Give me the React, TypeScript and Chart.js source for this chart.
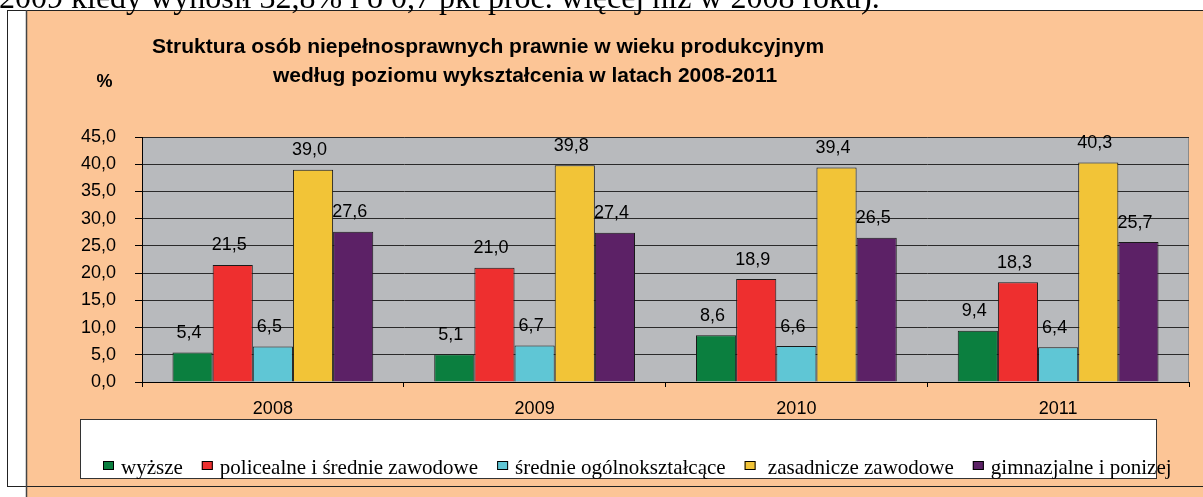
import React, { useEffect, useRef } from "react";
import { Chart, registerables } from "chart.js";

Chart.register(...registerables);

const categories = ["2008", "2009", "2010", "2011"];
const seriesNames = [
  "wyższe",
  "policealne i średnie zawodowe",
  "średnie ogólnokształcące",
  " zasadnicze zawodowe",
  "gimnazjalne i ponizej",
];
const wyzsze = [5.4, 5.1, 8.6, 9.4];
const policealne = [21.5, 21.0, 18.9, 18.3];
const srednieOgolne = [6.5, 6.7, 6.6, 6.4];
const zasadnicze = [39.0, 39.8, 39.4, 40.3];
const gimnazjalne = [27.6, 27.4, 26.5, 25.7];
const seriesColors = ["#0B7F3F", "#EE2F2F", "#5FC6D5", "#F2C437", "#5C2166"];
const titleLines = [
  "Struktura osób niepełnosprawnych prawnie w wieku produkcyjnym",
  "według poziomu wykształcenia w latach 2008-2011",
];
const yAxisLabel = "%";
const topText = "2009 kiedy wynosił 32,8% i o 0,7 pkt proc. więcej niż w 2008 roku).";

const SANS = "'Liberation Sans', Arial, sans-serif";
const SERIF = "'Liberation Serif', 'Times New Roman', serif";

const fmt = (v: number) => v.toFixed(1).replace(".", ",");

const decorPlugin = {
  id: "decor",
  beforeDraw(chart: any) {
    const ctx = chart.ctx;
    const W = chart.width;
    const H = chart.height;
    ctx.save();
    ctx.fillStyle = "#ffffff";
    ctx.fillRect(0, 0, W, H);
    // peach panel
    ctx.fillStyle = "#FCC596";
    ctx.fillRect(26, 10, W - 26, H - 10);
    // frame lines
    ctx.strokeStyle = "#222";
    ctx.lineWidth = 1;
    ctx.beginPath();
    ctx.moveTo(7, 10.5);
    ctx.lineTo(W, 10.5);
    ctx.moveTo(7.5, 10);
    ctx.lineTo(7.5, 486.5);
    ctx.moveTo(7, 486.5);
    ctx.lineTo(W, 486.5);
    ctx.stroke();
    ctx.strokeStyle = "#444";
    ctx.lineWidth = 1.5;
    ctx.beginPath();
    ctx.moveTo(26.5, 10);
    ctx.lineTo(26.5, H);
    ctx.stroke();
    // top document text (cut off)
    ctx.fillStyle = "#000";
    ctx.font = `32px ${SERIF}`;
    ctx.textBaseline = "alphabetic";
    ctx.textAlign = "left";
    ctx.fillText(topText, -1, 8);
    // title
    ctx.font = `bold 21px ${SANS}`;
    ctx.textBaseline = "middle";
    ctx.fillText(titleLines[0], 152, 47);
    ctx.fillText(titleLines[1], 273, 76);
    ctx.font = `bold 18px ${SANS}`;
    ctx.textAlign = "center";
    ctx.fillText(yAxisLabel, 104.5, 82);
    // plot background
    const a = chart.chartArea;
    ctx.fillStyle = "#B8BABD";
    ctx.fillRect(a.left, a.top, a.right - a.left, a.bottom - a.top);
    ctx.strokeStyle = "#8a8a8a";
    ctx.lineWidth = 1;
    ctx.strokeRect(a.left + 0.5, a.top + 0.5, a.right - a.left - 1, a.bottom - a.top);
    // legend box
    ctx.fillStyle = "#ffffff";
    ctx.fillRect(80, 419, 1156 - 80, 478 - 419);
    ctx.strokeStyle = "#333";
    ctx.strokeRect(80.5, 419.5, 1156 - 80, 478 - 419);
    ctx.restore();
  },
  afterDraw(chart: any) {
    const ctx = chart.ctx;
    ctx.save();
    // legend items
    ctx.font = `21px ${SERIF}`;
    ctx.textBaseline = "alphabetic";
    ctx.textAlign = "left";
    let x = 103;
    chart.data.datasets.forEach((ds: any) => {
      ctx.fillStyle = ds.backgroundColor;
      ctx.fillRect(x, 461, 11, 9);
      ctx.strokeStyle = "#000";
      ctx.lineWidth = 1;
      ctx.strokeRect(x + 0.5, 461.5, 10, 8);
      ctx.fillStyle = "#000";
      ctx.fillText(ds.label, x + 18, 474);
      x += 18 + ctx.measureText(ds.label).width + 19;
    });
    ctx.restore();
  },
};

const valueLabelPlugin = {
  id: "valueLabels",
  afterDatasetsDraw(chart: any) {
    const ctx = chart.ctx;
    ctx.save();
    ctx.font = `18px ${SANS}`;
    ctx.fillStyle = "#000";
    ctx.textAlign = "center";
    ctx.textBaseline = "middle";
    chart.data.datasets.forEach((ds: any, i: number) => {
      const meta = chart.getDatasetMeta(i);
      meta.data.forEach((el: any, j: number) => {
        ctx.fillText(fmt(ds.data[j]), el.x - 3.5, el.y - 19.5);
      });
    });
    ctx.restore();
  },
};

export default function App() {
  const ref = useRef<HTMLCanvasElement>(null);
  useEffect(() => {
    if (!ref.current) return;
    const values = [wyzsze, policealne, srednieOgolne, zasadnicze, gimnazjalne];
    const chart = new Chart(ref.current, {
      type: "bar",
      data: {
        labels: categories,
        datasets: values.map((d, i) => ({
          label: seriesNames[i],
          data: d,
          backgroundColor: seriesColors[i],
          borderColor: "#1a1a1a",
          borderWidth: 1,
          barPercentage: 1,
          categoryPercentage: 0.767,
        })),
      },
      options: {
        responsive: false,
        animation: false,
        devicePixelRatio: 1,
        layout: { padding: { left: 26, right: 14, top: 137, bottom: 0 } },
        plugins: {
          legend: { display: false },
          title: { display: false },
          tooltip: { enabled: false },
        },
        scales: {
          x: {
            afterFit: (s: any) => {
              s.height = 115;
            },
            grid: {
              drawOnChartArea: false,
              drawTicks: true,
              tickLength: 5,
              color: "#000",
              offset: true,
            },
            border: { display: true, color: "#000" },
            ticks: {
              color: "#000",
              font: { family: SANS, size: 18 },
              padding: 11,
            },
          },
          y: {
            min: 0,
            max: 45,
            afterFit: (s: any) => {
              s.width = 116;
            },
            grid: {
              color: "#2a2a2a",
              tickLength: 7,
              tickColor: "#000",
            },
            border: { display: true, color: "#000" },
            ticks: {
              stepSize: 5,
              color: "#000",
              padding: 19,
              font: { family: SANS, size: 18 },
              callback: (v: any) => fmt(Number(v)),
            },
          },
        },
      },
      plugins: [decorPlugin, valueLabelPlugin],
    });
    return () => chart.destroy();
  }, []);
  return (
    <div style={{ position: "absolute", left: 0, top: 0, width: 1203, height: 497, overflow: "hidden" }}>
      <canvas ref={ref} width={1203} height={497} style={{ display: "block" }} />
    </div>
  );
}
